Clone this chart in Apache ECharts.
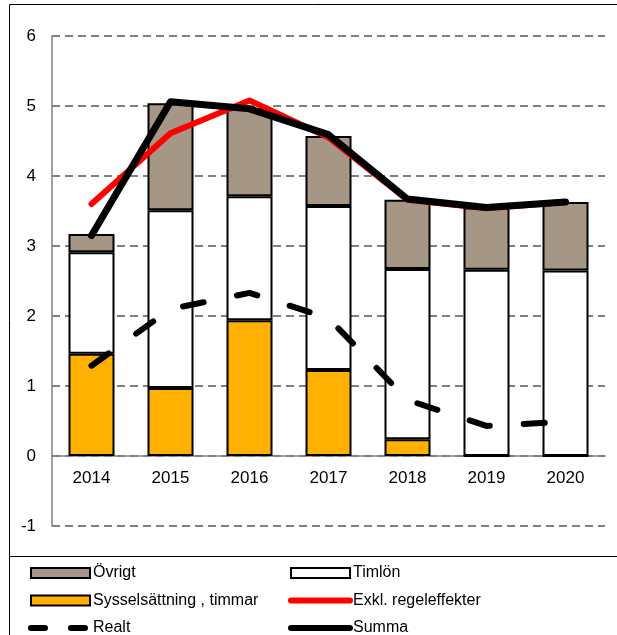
<!DOCTYPE html>
<html><head><meta charset="utf-8">
<script src="https://cdn.jsdelivr.net/npm/echarts@6/dist/echarts.min.js"></script>
<style>html,body{margin:0;padding:0;background:#fff}#c{width:617px;height:635px}</style>
</head><body><div id="c"></div>
<script>
const years = ['2014','2015','2016','2017','2018','2019','2020'];
const syssel = [1.46, 0.97, 1.94, 1.23, 0.24, 0, 0];
const timlon = [1.45, 2.54, 1.77, 2.34, 2.43, 2.66, 2.65];
const ovrigt = [0.26, 1.53, 1.26, 1.00, 0.99, 0.89, 0.98];
const exkl = [3.60, 4.61, 5.08, 4.55, 3.66, 3.54, 3.63];
const realt = [1.29, 2.10, 2.33, 1.97, 0.80, 0.43, 0.49];
const summa = [3.15, 5.06, 4.96, 4.59, 3.67, 3.55, 3.63];
const yTicks = [-1, 0, 1, 2, 3, 4, 5, 6];

const FONT = '"Liberation Sans", Arial, sans-serif';
const chart = echarts.init(document.getElementById('c'), null, {renderer: 'canvas'});
const barBorder = {borderColor: '#000', borderWidth: 2};
const legText = {fontSize: 16, color: '#000', fontFamily: FONT, padding: [0, 0, 0, -2]};
chart.setOption({
  animation: false,
  textStyle: {fontFamily: FONT},
  grid: {left: 52, right: 12, top: 36, bottom: 109},
  graphic: [
    {type: 'rect', shape: {x: 9.5, y: 4.5, width: 620, height: 640}, style: {fill: 'none', stroke: '#000', lineWidth: 1}, silent: true, z: -1},
    {type: 'line', shape: {x1: 9, y1: 556.5, x2: 617, y2: 556.5}, style: {stroke: '#000', lineWidth: 1}, silent: true}
  ],
  legend: [
    {orient: 'vertical', left: 28, top: 565, height: 80, padding: 0, itemWidth: 59, itemHeight: 10, itemGap: 11.5,
     textStyle: legText,
     data: [{name: 'Övrigt', icon: 'rect'}, {name: 'Sysselsättning , timmar', icon: 'rect'},
       {name: 'Realt', itemStyle: {opacity: 0}, lineStyle: {type: [14, 26], width: 6, cap: 'round', color: '#000'}}]},
    {orient: 'vertical', left: 288, top: 565, height: 80, padding: 0, itemWidth: 59, itemHeight: 10, itemGap: 11.5,
     textStyle: legText,
     data: [{name: 'Timlön', icon: 'rect'},
       {name: 'Exkl. regeleffekter', itemStyle: {opacity: 0}, lineStyle: {width: 6, cap: 'round', color: '#FF0000'}},
       {name: 'Summa', itemStyle: {opacity: 0}, lineStyle: {width: 6, cap: 'round', color: '#000'}}]}
  ],
  xAxis: {
    type: 'category', data: years, offset: -70,
    axisLine: {onZero: false, lineStyle: {color: '#808080', width: 1.5}},
    axisTick: {show: false},
    axisLabel: {fontSize: 17, color: '#000', margin: 14, fontFamily: FONT}
  },
  yAxis: {
    type: 'value', min: -1, max: 6, interval: 1,
    axisLine: {show: true, lineStyle: {color: '#808080', width: 1.5}},
    axisTick: {show: false},
    axisLabel: {fontSize: 17, color: '#000', margin: 16, fontFamily: FONT,
      formatter: v => yTicks.includes(v) ? String(v) : ''},
    splitLine: {lineStyle: {color: '#808080', width: 2, type: [8, 5]}}
  },
  series: [
    {name: 'Sysselsättning , timmar', type: 'bar', stack: 't', data: syssel, barWidth: 46,
     itemStyle: Object.assign({color: '#FFB000'}, barBorder)},
    {name: 'Timlön', type: 'bar', stack: 't', data: timlon, barWidth: 46,
     itemStyle: Object.assign({color: '#FFFFFF'}, barBorder)},
    {name: 'Övrigt', type: 'bar', stack: 't', data: ovrigt, barWidth: 46,
     itemStyle: Object.assign({color: '#A69686'}, barBorder)},
    {name: 'Realt', type: 'line', data: realt, symbol: 'none', z: 5,
     lineStyle: {color: '#000', width: 6, type: [21, 34], cap: 'round'}, itemStyle: {color: '#000'}},
    {name: 'Exkl. regeleffekter', type: 'line', data: exkl, symbol: 'none', z: 6,
     lineStyle: {color: '#FF0000', width: 6, cap: 'round', join: 'round'}, itemStyle: {color: '#FF0000'}},
    {name: 'Summa', type: 'line', data: summa, symbol: 'none', z: 7,
     lineStyle: {color: '#000', width: 7, cap: 'round', join: 'round'}, itemStyle: {color: '#000'}}
  ]
});
</script></body></html>
